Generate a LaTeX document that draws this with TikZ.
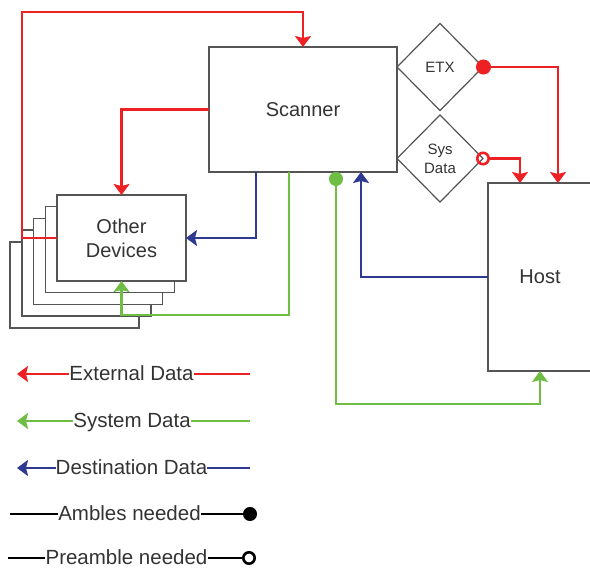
\documentclass[tikz,border=0pt]{standalone}
\usepackage{fontspec}
\setmainfont{Liberation Sans}
\usetikzlibrary{arrows.meta,shapes.geometric,calc}
\definecolor{extred}{RGB}{237,32,36}
\definecolor{sysgreen}{RGB}{112,189,68}
\definecolor{destblue}{RGB}{46,57,146}
\definecolor{boxgray}{RGB}{85,85,85}
\definecolor{textgray}{RGB}{51,51,51}
\begin{document}
\begin{tikzpicture}[x=1pt,y=-1pt]

    \tikzset{
      unit/.style={
        draw=boxgray,
        line width=1.5pt,
        fill=white,
        inner sep=0pt,
        outer sep=0pt,
        text=textgray,
        font=\fontsize{20}{24}\selectfont,
        align=center,
      },
      gate/.style={
        diamond,
        draw=boxgray,
        line width=1.2pt,
        inner sep=0pt,
        outer sep=0pt,
        minimum width=86pt,
        minimum height=87pt,
        text=textgray,
        font=\fontsize{15}{19}\selectfont,
        align=center,
      },
      flow/.style={line width=2.6pt, -{Stealth[width=16pt,length=11pt,inset=2pt]}},
      wire/.style={line width=2.6pt},
      legtext/.style={inner sep=0pt, text height=14pt, text depth=0pt, text=textgray, font=\fontsize{20.5}{24}\selectfont},
    }
    \useasboundingbox (0,0) rectangle (590,569);
    \clip (0,0) rectangle (590,569);

	\node[unit, minimum width=188pt, minimum height=125pt] (scanner) at (303,109.5) {Scanner};
	\node[gate] (etx) at (440,67) {ETX};
	\node[gate] (sysdata) at (440,158.5) {Sys\\Data};
	\node[unit, minimum width=104pt, minimum height=188pt] (host) at (540,277) {Host};

	\node[unit, minimum width=129pt, minimum height=86pt] (dev4) at (74.5,285) {};
	\node[unit, minimum width=129pt, minimum height=86pt] (dev3) at (86.25,273.25) {};
	\node[unit, minimum width=129pt, minimum height=86pt] (dev2) at (98,261.5) {};
	\node[unit, minimum width=129pt, minimum height=86pt] (dev1) at (109.75,249.75) {};
	\node[unit, minimum width=129pt, minimum height=86pt] (devices) at (121.5,238) {Other\\Devices};

	\coordinate (corner) at (22,12);
	\coordinate (sysbend) at (289,315);
	\coordinate (hostbend) at (336,404);

	\draw[flow, color=extred] (devices.west) -| (corner) -| (scanner.north);
	\draw[flow, color=extred] (scanner.west) -| (devices.north);
	\draw[flow, color=destblue] ($(scanner.south west)+(47,0)$) |- (devices.east);
	\draw[flow, color=sysgreen] (scanner.south -| sysbend) -- (sysbend) -| (devices.south);
	\draw[flow, color=destblue] (host.west) -| ($(scanner.south west)+(152,0)$);
	\draw[wire, color=sysgreen, {Circle[length=14pt]}-{Stealth[width=16pt,length=11pt,inset=2pt]}] (scanner.south -| hostbend) -- (hostbend) -| (host.south);
	\draw[wire, color=extred, {Circle[length=15pt]}-{Stealth[width=16pt,length=11pt,inset=2pt]}, shorten <=-7pt] (etx.east) -| ($(host.north west)+(70,0)$);
	\draw[wire, color=extred, {Circle[open,length=14pt]}-{Stealth[width=16pt,length=11pt,inset=2pt]}, shorten <=-7pt] (sysdata.east) -| ($(host.north west)+(32,0)$);

	\node[legtext] (extlabel) at (131.5,374) {External Data};
	\node[legtext] (syslabel) at (132,421) {System Data};
	\node[legtext] (destlabel) at (131.5,468) {Destination Data};
	\node[legtext] (amblabel) at (129.5,514) {Ambles needed};
	\node[legtext] (prelabel) at (126.5,558) {Preamble needed};

	\coordinate (extleft) at (17,374);
	\coordinate (extright) at (250,374);
	\coordinate (sysleft) at (17,421);
	\coordinate (sysright) at (250,421);
	\coordinate (destleft) at (17,468);
	\coordinate (destright) at (250,468);
	\coordinate (ambleft) at (10,514);
	\coordinate (ambright) at (257,514);
	\coordinate (preleft) at (8,558);
	\coordinate (preright) at (256,558);

	\draw[flow, color=extred] (extlabel.west) -- (extleft);
	\draw[wire, color=extred] (extlabel.east) -- (extright);
	\draw[flow, color=sysgreen] (syslabel.west) -- (sysleft);
	\draw[wire, color=sysgreen] (syslabel.east) -- (sysright);
	\draw[flow, color=destblue] (destlabel.west) -- (destleft);
	\draw[wire, color=destblue] (destlabel.east) -- (destright);
	\draw[wire] (ambleft) -- (amblabel.west);
	\draw[wire, -{Circle[length=14pt]}] (amblabel.east) -- (ambright);
	\draw[wire] (preleft) -- (prelabel.west);
	\draw[wire, -{Circle[open,length=14pt]}] (prelabel.east) -- (preright);

\end{tikzpicture}
\end{document}
